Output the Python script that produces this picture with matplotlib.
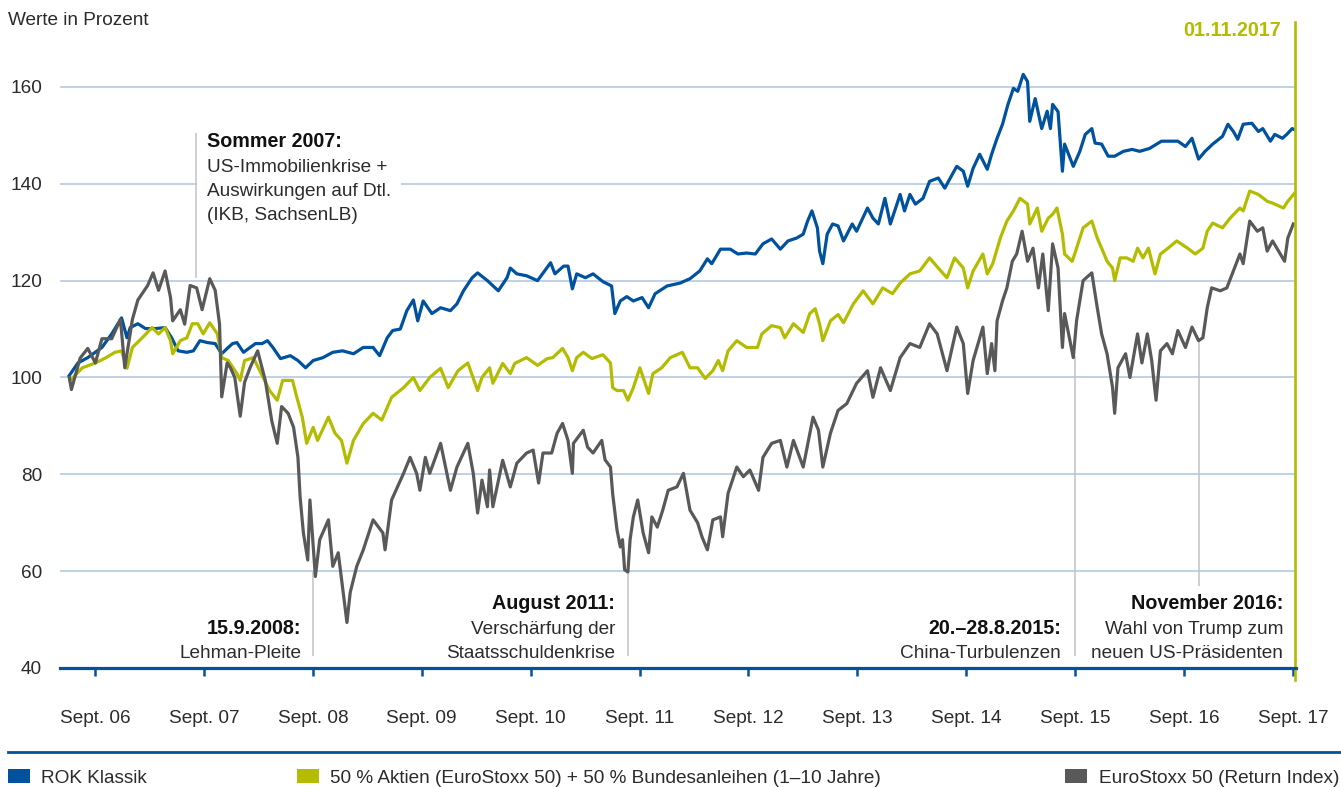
import matplotlib.pyplot as plt
from matplotlib.lines import Line2D
from matplotlib.patches import Patch

plt.rcParams["font.family"] = ["Liberation Sans", "DejaVu Sans"]

# index values (start = 100); x = decimal year
ROK = [
    (2006.43, 100.4), (2006.51, 103.0), (2006.60, 104.1), (2006.73, 106.2), (2006.82, 109.0),
    (2006.91, 112.3), (2006.96, 108.2), (2006.99, 110.3), (2007.06, 111.1), (2007.13, 110.1),
    (2007.22, 110.1), (2007.31, 110.3), (2007.37, 108.2), (2007.43, 105.5), (2007.51, 105.2),
    (2007.57, 105.5), (2007.63, 107.6), (2007.70, 107.2), (2007.77, 107.0), (2007.83, 104.9),
    (2007.89, 106.2), (2007.93, 107.0), (2007.97, 107.2), (2008.03, 105.2), (2008.14, 107.0),
    (2008.20, 107.0), (2008.25, 107.6), (2008.30, 106.2), (2008.37, 103.9), (2008.46, 104.5),
    (2008.53, 103.5), (2008.60, 102.0), (2008.67, 103.5), (2008.76, 104.1), (2008.85, 105.2),
    (2008.94, 105.5), (2009.04, 104.9), (2009.13, 106.2), (2009.22, 106.2), (2009.28, 104.5),
    (2009.35, 108.2), (2009.40, 109.7), (2009.47, 110.0), (2009.53, 113.8), (2009.59, 116.0),
    (2009.63, 111.7), (2009.68, 115.8), (2009.76, 113.2), (2009.84, 114.4), (2009.93, 113.8),
    (2009.99, 115.2), (2010.05, 117.9), (2010.13, 120.6), (2010.18, 121.6), (2010.27, 120.0),
    (2010.37, 117.9), (2010.45, 120.6), (2010.48, 122.6), (2010.54, 121.4), (2010.63, 121.0),
    (2010.73, 120.0), (2010.85, 123.7), (2010.89, 121.4), (2010.97, 123.0), (2011.01, 123.0),
    (2011.05, 118.3), (2011.09, 121.4), (2011.17, 120.6), (2011.24, 121.4), (2011.33, 119.8),
    (2011.41, 118.9), (2011.44, 113.2), (2011.49, 115.8), (2011.55, 116.7), (2011.61, 115.8),
    (2011.69, 116.5), (2011.75, 114.4), (2011.81, 117.3), (2011.92, 118.9), (2012.04, 119.5),
    (2012.13, 120.4), (2012.22, 122.0), (2012.29, 124.5), (2012.33, 123.5), (2012.41, 126.5),
    (2012.50, 126.5), (2012.57, 125.5), (2012.65, 125.7), (2012.73, 125.5), (2012.80, 127.6),
    (2012.88, 128.6), (2012.96, 126.5), (2013.03, 128.2), (2013.11, 128.8), (2013.17, 129.6),
    (2013.21, 132.3), (2013.25, 134.4), (2013.30, 130.9), (2013.32, 126.1), (2013.35, 123.5),
    (2013.39, 129.6), (2013.44, 131.7), (2013.49, 131.3), (2013.54, 128.2), (2013.62, 131.7),
    (2013.66, 130.2), (2013.76, 135.0), (2013.81, 132.9), (2013.86, 131.7), (2013.92, 137.0),
    (2013.97, 131.7), (2014.06, 137.8), (2014.10, 134.4), (2014.15, 137.8), (2014.20, 135.8),
    (2014.27, 137.0), (2014.33, 140.5), (2014.41, 141.2), (2014.47, 139.1), (2014.54, 142.0),
    (2014.58, 143.6), (2014.64, 142.6), (2014.68, 139.5), (2014.73, 143.2), (2014.79, 146.1),
    (2014.86, 143.0), (2014.90, 146.1), (2014.95, 149.4), (2015.00, 152.3), (2015.05, 156.4),
    (2015.10, 159.7), (2015.14, 159.1), (2015.19, 162.6), (2015.23, 161.1), (2015.25, 152.9),
    (2015.30, 157.6), (2015.36, 151.4), (2015.41, 155.0), (2015.44, 151.4), (2015.46, 156.4),
    (2015.51, 154.9), (2015.55, 142.6), (2015.57, 148.2), (2015.62, 145.3), (2015.65, 143.6),
    (2015.71, 146.7), (2015.76, 150.2), (2015.82, 151.4), (2015.85, 148.4), (2015.91, 148.2),
    (2015.97, 145.7), (2016.03, 145.7), (2016.11, 146.7), (2016.19, 147.1), (2016.26, 146.7),
    (2016.35, 147.3), (2016.46, 148.8), (2016.54, 148.8), (2016.61, 148.8), (2016.68, 147.7),
    (2016.74, 149.4), (2016.80, 145.1), (2016.86, 146.7), (2016.93, 148.2), (2017.02, 149.8),
    (2017.07, 152.3), (2017.12, 150.8), (2017.16, 149.2), (2017.21, 152.3), (2017.29, 152.5),
    (2017.35, 150.8), (2017.39, 151.4), (2017.46, 148.8), (2017.50, 150.2), (2017.57, 149.4),
    (2017.61, 150.2), (2017.66, 151.4), (2017.68, 151.2),
]

MIX = [
    (2006.44, 99.4), (2006.55, 102.0), (2006.67, 103.0), (2006.76, 104.0), (2006.85, 105.2),
    (2006.91, 105.5), (2006.96, 101.9), (2007.01, 106.2), (2007.10, 108.2), (2007.19, 110.3),
    (2007.25, 109.0), (2007.31, 110.3), (2007.36, 107.6), (2007.38, 104.9), (2007.45, 107.6),
    (2007.51, 108.2), (2007.56, 111.1), (2007.61, 111.1), (2007.66, 109.0), (2007.72, 111.3),
    (2007.79, 109.0), (2007.83, 104.1), (2007.89, 103.5), (2007.97, 100.8), (2008.00, 99.4),
    (2008.04, 103.5), (2008.12, 104.1), (2008.21, 100.0), (2008.27, 97.3), (2008.34, 95.3),
    (2008.39, 99.4), (2008.48, 99.4), (2008.52, 95.9), (2008.57, 91.8), (2008.61, 86.4),
    (2008.67, 89.7), (2008.71, 87.0), (2008.81, 91.8), (2008.87, 88.5), (2008.93, 87.0),
    (2008.98, 82.3), (2009.04, 87.0), (2009.13, 90.5), (2009.22, 92.6), (2009.30, 91.2),
    (2009.39, 95.9), (2009.50, 97.9), (2009.59, 100.0), (2009.65, 97.3), (2009.74, 100.0),
    (2009.84, 101.9), (2009.91, 97.9), (2010.00, 101.4), (2010.09, 103.0), (2010.18, 97.3),
    (2010.22, 100.0), (2010.29, 102.0), (2010.32, 98.8), (2010.41, 102.9), (2010.48, 100.8),
    (2010.52, 102.9), (2010.63, 104.1), (2010.73, 102.5), (2010.82, 103.9), (2010.87, 104.1),
    (2010.96, 106.0), (2011.01, 104.1), (2011.05, 101.4), (2011.09, 104.1), (2011.15, 105.2),
    (2011.23, 103.9), (2011.33, 104.7), (2011.40, 103.0), (2011.42, 97.9), (2011.46, 97.3),
    (2011.52, 97.3), (2011.56, 95.3), (2011.61, 97.9), (2011.67, 102.0), (2011.75, 96.7),
    (2011.79, 100.8), (2011.87, 102.0), (2011.95, 104.1), (2012.06, 105.2), (2012.13, 102.0),
    (2012.20, 102.0), (2012.27, 99.8), (2012.34, 101.4), (2012.39, 103.5), (2012.43, 101.4),
    (2012.48, 105.5), (2012.56, 107.6), (2012.65, 106.2), (2012.75, 106.2), (2012.79, 109.0),
    (2012.88, 110.7), (2012.96, 110.3), (2013.00, 108.2), (2013.08, 111.1), (2013.17, 109.3),
    (2013.23, 113.2), (2013.28, 114.2), (2013.32, 111.1), (2013.35, 107.6), (2013.42, 111.7),
    (2013.49, 113.0), (2013.54, 111.3), (2013.63, 115.2), (2013.72, 117.9), (2013.81, 115.2),
    (2013.90, 118.5), (2013.99, 117.3), (2014.06, 119.5), (2014.15, 121.4), (2014.24, 122.0),
    (2014.33, 124.7), (2014.41, 122.6), (2014.49, 120.6), (2014.56, 124.7), (2014.64, 122.6),
    (2014.68, 118.5), (2014.73, 122.0), (2014.82, 125.5), (2014.86, 121.4), (2014.91, 123.5),
    (2014.98, 128.8), (2015.04, 132.3), (2015.10, 134.4), (2015.16, 137.0), (2015.23, 135.8),
    (2015.25, 131.7), (2015.32, 135.0), (2015.36, 130.2), (2015.42, 132.9), (2015.46, 133.7),
    (2015.50, 135.0), (2015.55, 129.6), (2015.57, 125.5), (2015.64, 124.0), (2015.68, 126.7),
    (2015.74, 130.9), (2015.82, 132.3), (2015.87, 128.8), (2015.91, 126.7), (2015.96, 124.0),
    (2016.01, 122.6), (2016.03, 120.0), (2016.08, 124.7), (2016.14, 124.7), (2016.20, 124.0),
    (2016.24, 126.7), (2016.29, 124.7), (2016.34, 126.7), (2016.40, 121.4), (2016.45, 125.5),
    (2016.52, 126.7), (2016.60, 128.2), (2016.70, 126.7), (2016.77, 125.5), (2016.84, 126.7),
    (2016.88, 130.2), (2016.93, 131.9), (2017.02, 130.9), (2017.09, 132.9), (2017.18, 135.0),
    (2017.21, 134.4), (2017.27, 138.5), (2017.35, 137.8), (2017.43, 136.4), (2017.48, 136.0),
    (2017.58, 135.0), (2017.62, 136.4), (2017.68, 138.0),
]

STOXX = [
    (2006.43, 100.0), (2006.45, 97.5), (2006.53, 104.0), (2006.60, 106.0), (2006.67, 103.0),
    (2006.73, 108.0), (2006.82, 108.0), (2006.90, 112.0), (2006.94, 102.0), (2007.01, 112.0),
    (2007.06, 116.0), (2007.15, 119.0), (2007.20, 121.6), (2007.25, 118.0), (2007.31, 122.0),
    (2007.36, 116.5), (2007.38, 111.7), (2007.45, 114.0), (2007.49, 111.0), (2007.54, 119.0),
    (2007.60, 118.5), (2007.65, 114.0), (2007.72, 120.4), (2007.77, 118.0), (2007.81, 111.0),
    (2007.83, 96.0), (2007.88, 103.0), (2007.91, 102.0), (2007.95, 100.0), (2008.00, 92.0),
    (2008.04, 99.0), (2008.09, 102.0), (2008.16, 105.5), (2008.23, 99.4), (2008.29, 91.0),
    (2008.34, 86.4), (2008.38, 94.0), (2008.44, 92.6), (2008.49, 89.7), (2008.53, 83.5),
    (2008.55, 75.3), (2008.58, 67.9), (2008.62, 62.3), (2008.64, 74.7), (2008.69, 58.9),
    (2008.73, 66.5), (2008.81, 70.6), (2008.85, 61.0), (2008.90, 63.8), (2008.98, 49.4),
    (2009.01, 55.6), (2009.07, 61.0), (2009.13, 64.4), (2009.22, 70.6), (2009.31, 67.9),
    (2009.33, 64.4), (2009.39, 74.7), (2009.50, 80.2), (2009.56, 83.5), (2009.62, 80.2),
    (2009.65, 76.7), (2009.70, 83.5), (2009.74, 80.2), (2009.84, 86.4), (2009.93, 76.7),
    (2009.99, 81.5), (2010.09, 86.4), (2010.14, 80.2), (2010.18, 72.0), (2010.22, 78.8),
    (2010.27, 73.3), (2010.29, 80.9), (2010.32, 73.3), (2010.41, 82.9), (2010.48, 77.4),
    (2010.54, 82.3), (2010.63, 84.4), (2010.69, 85.0), (2010.74, 78.2), (2010.78, 84.4),
    (2010.86, 84.4), (2010.91, 88.5), (2010.96, 90.5), (2011.01, 87.0), (2011.05, 80.2),
    (2011.06, 86.4), (2011.15, 89.1), (2011.19, 85.6), (2011.24, 84.4), (2011.32, 87.0),
    (2011.35, 83.0), (2011.40, 81.5), (2011.42, 76.0), (2011.46, 68.5), (2011.49, 65.0),
    (2011.51, 66.5), (2011.53, 60.3), (2011.56, 59.8), (2011.58, 66.5), (2011.61, 71.2),
    (2011.65, 74.7), (2011.70, 67.9), (2011.75, 63.8), (2011.78, 71.2), (2011.83, 69.1),
    (2011.88, 72.6), (2011.93, 76.7), (2012.01, 77.4), (2012.07, 80.2), (2012.13, 72.6),
    (2012.20, 70.0), (2012.24, 67.1), (2012.29, 64.4), (2012.34, 70.6), (2012.41, 71.2),
    (2012.43, 67.1), (2012.48, 76.1), (2012.56, 81.5), (2012.62, 79.5), (2012.68, 80.9),
    (2012.76, 76.7), (2012.80, 83.5), (2012.88, 86.4), (2012.96, 87.0), (2013.02, 81.5),
    (2013.08, 87.0), (2013.17, 81.5), (2013.26, 91.8), (2013.31, 89.1), (2013.35, 81.5),
    (2013.42, 88.5), (2013.49, 93.2), (2013.57, 94.6), (2013.66, 98.8), (2013.76, 101.4),
    (2013.81, 95.9), (2013.88, 102.0), (2013.97, 97.3), (2014.06, 104.1), (2014.15, 107.0),
    (2014.24, 106.2), (2014.33, 111.1), (2014.40, 109.0), (2014.49, 101.4), (2014.58, 110.4),
    (2014.64, 107.0), (2014.68, 96.7), (2014.73, 103.5), (2014.82, 110.4), (2014.86, 100.8),
    (2014.90, 107.0), (2014.93, 101.4), (2014.95, 111.7), (2015.00, 115.8), (2015.04, 118.5),
    (2015.09, 124.0), (2015.13, 125.5), (2015.18, 130.2), (2015.23, 124.0), (2015.28, 126.7),
    (2015.33, 118.5), (2015.37, 125.5), (2015.42, 113.8), (2015.46, 127.6), (2015.51, 122.6),
    (2015.55, 106.2), (2015.57, 113.2), (2015.65, 104.1), (2015.68, 111.7), (2015.74, 120.0),
    (2015.82, 121.6), (2015.87, 114.4), (2015.91, 109.0), (2015.96, 104.9), (2016.01, 98.0),
    (2016.03, 92.6), (2016.06, 102.0), (2016.13, 104.9), (2016.17, 100.0), (2016.24, 109.0),
    (2016.28, 103.0), (2016.33, 109.0), (2016.37, 103.5), (2016.41, 95.3), (2016.45, 105.5),
    (2016.51, 107.0), (2016.56, 104.9), (2016.61, 109.7), (2016.68, 106.2), (2016.74, 110.4),
    (2016.80, 107.6), (2016.84, 108.2), (2016.88, 114.4), (2016.92, 118.5), (2017.00, 117.9),
    (2017.06, 118.5), (2017.11, 121.4), (2017.18, 125.5), (2017.21, 123.5), (2017.27, 132.3),
    (2017.34, 130.2), (2017.39, 130.9), (2017.43, 126.1), (2017.48, 128.2), (2017.55, 125.5),
    (2017.59, 124.0), (2017.62, 128.8), (2017.67, 131.7),
]

SERIES_LABELS = [
    "ROK Klassik",
    "50 % Aktien (EuroStoxx 50) + 50 % Bundesanleihen (1–10 Jahre)",
    "EuroStoxx 50 (Return Index)",
]

tick_years = list(range(2006, 2018))
tick_labels = [f"Sept. {y % 100:02d}" for y in tick_years]
y_ticks = [40, 60, 80, 100, 120, 140, 160]

# event date, leader line from/to (index value)
event_dates = [2007.594, 2008.667, 2011.562, 2015.667, 2016.805]
event_spans = [(120.5, 150.5), (42.5, 60.0), (42.5, 59.5), (42.5, 104.5), (57.0, 107.5)]

report_date = 2017.686
report_label = "01.11.2017"

BLUE = "#00519e"
OLIVE = "#b3bc00"
GREY = "#595959"
GRID = "#bfd1e6"
LEADER = "#c2c2c2"
TEXT = "#2b2b2b"
FS = 13.7
FS_BOLD = 14.2

fig = plt.figure(figsize=(13.41, 7.87), dpi=100)
ax = fig.add_axes([0.04474, 0.15121, 0.92170, 0.81829])

for pts, colour in ((ROK, BLUE), (MIX, OLIVE), (STOXX, GREY)):
    xs, ys = zip(*pts)
    ax.plot(xs, ys, color=colour, lw=2.3, solid_joinstyle="round", zorder=3)

for v in y_ticks[1:]:
    ax.axhline(v, color=GRID, lw=1.4, zorder=1)

ax.set_xlim(2006.345, 2017.695)
ax.set_ylim(40, 173)

ax.set_yticks(y_ticks)
ax.set_yticklabels([str(v) for v in y_ticks])
ax.tick_params(axis="y", length=0, pad=13, labelsize=FS, labelcolor=TEXT)

ax.set_xticks([y + 8 / 12 for y in tick_years])
ax.set_xticklabels(tick_labels)
ax.tick_params(axis="x", length=6, width=1.8, color=BLUE, pad=24,
               labelsize=FS, labelcolor=TEXT)

for side in ("top", "right", "left"):
    ax.spines[side].set_visible(False)
ax.spines["bottom"].set_color(BLUE)
ax.spines["bottom"].set_linewidth(2.3)
ax.spines["bottom"].set_zorder(4)

# event markers
for d, (lo, hi) in zip(event_dates, event_spans):
    ax.vlines(d, lo, hi, color=LEADER, lw=1.1, zorder=2)

annotations = [
    (2007.695, "left", 147.5, "Sommer 2007:",
     ["US-Immobilienkrise +", "Auswirkungen auf Dtl.", "(IKB, SachsenLB)"]),
    (2008.559, "right", 47.1, "15.9.2008:", ["Lehman-Pleite"]),
    (2011.442, "right", 52.1, "August 2011:", ["Verschärfung der", "Staatsschuldenkrise"]),
    (2015.538, "right", 47.1, "20.–28.8.2015:", ["China-Turbulenzen"]),
    (2017.576, "right", 52.1, "November 2016:", ["Wahl von Trump zum", "neuen US-Präsidenten"]),
]
for x, ha, y0, title, lines in annotations:
    ax.text(x, y0, title, ha=ha, va="baseline", fontsize=FS_BOLD,
            fontweight="bold", color="#111111", zorder=5)
    for i, line in enumerate(lines, start=1):
        t = ax.text(x, y0 - 5 * i, line, ha=ha, va="baseline",
                    fontsize=FS, color=TEXT, zorder=5)
        if title.startswith("Sommer") and i == 2:
            t.set_bbox(dict(facecolor="white", edgecolor="none", pad=7))

# report date marker
ax.axvline(report_date, ymin=-0.019, ymax=1.003, color=OLIVE, lw=1.9,
           clip_on=False, zorder=4)
ax.text(2017.56, 170.6, report_label, ha="right", va="baseline",
        fontsize=FS_BOLD, fontweight="bold", color=OLIVE)

fig.text(8 / 1341, 1 - 25 / 787, "Werte in Prozent", ha="left", va="baseline",
         fontsize=FS, color=TEXT)

# footer rule + legend
fig.add_artist(Line2D([8 / 1341, 1.0], [1 - 752 / 787] * 2, color=BLUE, lw=2.0))

leg_y = 1 - 778 / 787
for colour, label, xpos, loc in (
    (BLUE, SERIES_LABELS[0], 8 / 1341, "center left"),
    (OLIVE, SERIES_LABELS[1], 297 / 1341, "center left"),
    (GREY, SERIES_LABELS[2], 1339 / 1341, "center right"),
):
    fig.legend(handles=[Patch(facecolor=colour, edgecolor="none")], labels=[label],
               loc=loc, bbox_to_anchor=(xpos, leg_y), frameon=False, fontsize=FS,
               labelcolor=TEXT, handlelength=1.15, handleheight=0.75,
               handletextpad=0.6, borderpad=0, borderaxespad=0)

fig.savefig("out.png", dpi=100)
